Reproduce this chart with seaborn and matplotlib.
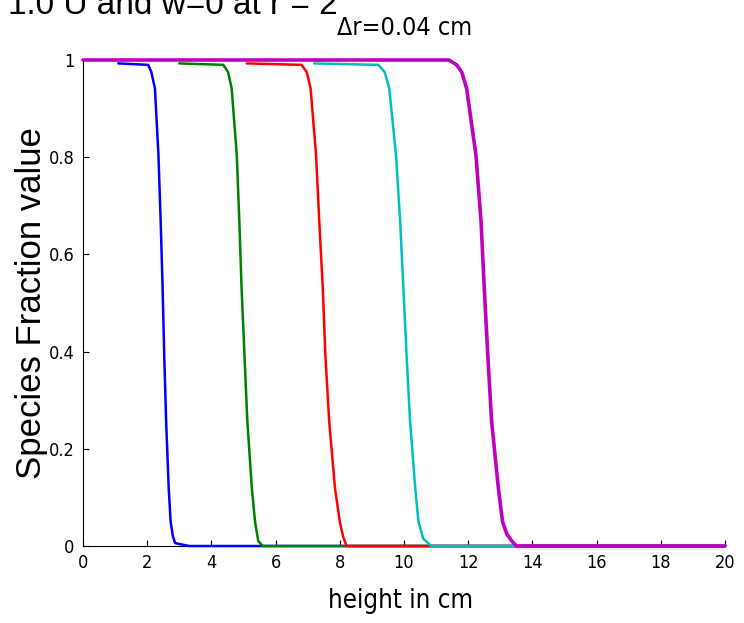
import matplotlib
matplotlib.use("Agg")
import matplotlib.pyplot as plt
import seaborn as sns
import pandas as pd

# ---- data ----
blue_x = [1.1, 2.03, 2.13, 2.24, 2.35, 2.42, 2.48, 2.53, 2.59, 2.67, 2.73, 2.8, 2.87, 3.3, 20.0]
blue_y = [0.993, 0.99, 0.975, 0.942, 0.805, 0.668, 0.531, 0.393, 0.256, 0.119, 0.05, 0.02, 0.006, 0.0, 0.0]

green_x = [3.0, 4.37, 4.52, 4.63, 4.79, 4.87, 4.94, 5.03, 5.12, 5.26, 5.36, 5.46, 5.6, 20.0]
green_y = [0.993, 0.99, 0.975, 0.942, 0.805, 0.668, 0.531, 0.393, 0.256, 0.119, 0.05, 0.01, 0.0, 0.0]

red_x = [5.1, 6.81, 6.97, 7.09, 7.26, 7.36, 7.47, 7.55, 7.67, 7.85, 8.0, 8.1, 8.21, 20.0]
red_y = [0.993, 0.99, 0.975, 0.942, 0.805, 0.668, 0.531, 0.393, 0.256, 0.119, 0.05, 0.02, 0.0, 0.0]

cyan_x = [7.2, 9.2, 9.4, 9.54, 9.75, 9.88, 9.98, 10.08, 10.19, 10.35, 10.45, 10.6, 10.85, 20.0]
cyan_y = [0.993, 0.99, 0.975, 0.942, 0.805, 0.668, 0.531, 0.393, 0.256, 0.119, 0.05, 0.015, 0.0, 0.0]

magenta_x = [0.0, 11.4, 11.64, 11.8, 11.95, 12.24, 12.40, 12.50, 12.61, 12.73, 12.94, 13.07, 13.2, 13.36, 13.5, 20.0]
magenta_y = [1.0, 1.0, 0.99, 0.975, 0.942, 0.805, 0.668, 0.531, 0.393, 0.256, 0.119, 0.05, 0.025, 0.01, 0.0, 0.0]

series_names = ["blue", "green", "red", "cyan", "magenta"]
series_x = [blue_x, green_x, red_x, cyan_x, magenta_x]
series_y = [blue_y, green_y, red_y, cyan_y, magenta_y]
colors = ["#0000ff", "#008000", "#ff0000", "#00bfbf", "#bf00bf"]
widths = [1.8, 1.8, 1.8, 1.8, 2.6]

x_ticks = [0, 2, 4, 6, 8, 10, 12, 14, 16, 18, 20]
y_ticks = [0, 0.2, 0.4, 0.6, 0.8, 1]
y_tick_labels = ["0", "0.2", "0.4", "0.6", "0.8", "1"]

title_top = "1.0 U and w=0 at r = 2"
title_sub = "\u0394r=0.04 cm"
x_label = "height in cm"
y_label = "Species Fraction value"

# ---- styling ----
sns.set_theme(style="white")
regular = ["Liberation Sans", "DejaVu Sans"]
cond = ["DejaVu Sans"]
plt.rcParams["font.family"] = regular
plt.rcParams["text.color"] = "black"
plt.rcParams["axes.labelcolor"] = "black"
plt.rcParams["xtick.color"] = "black"
plt.rcParams["ytick.color"] = "black"

fig = plt.figure(figsize=(7.44, 6.23), dpi=100)
ax = fig.add_axes([83 / 744, 1 - 546 / 623, (725 - 83) / 744, (546 - 60) / 623])

for name, xs, ys, c, w in zip(series_names, series_x, series_y, colors, widths):
    df = pd.DataFrame({"x": xs, "y": ys})
    sns.lineplot(data=df, x="x", y="y", ax=ax, color=c, linewidth=w,
                 estimator=None, sort=False, legend=False)
    ax.lines[-1].set_clip_on(False)

ax.set_xlim(0, 20)
ax.set_ylim(0, 1)
ax.set_xticks(x_ticks)
ax.set_xticklabels([str(t) for t in x_ticks])
ax.set_yticks(y_ticks)
ax.set_yticklabels(y_tick_labels)
for lab in ax.get_xticklabels() + ax.get_yticklabels():
    lab.set_family(cond)
    lab.set_stretch("condensed")
    lab.set_fontsize(13)
ax.tick_params(direction="in", length=4, width=0.8, colors="black", pad=6,
               bottom=True, left=True, top=False, right=False)
for s in ["top", "right"]:
    ax.spines[s].set_visible(False)
for s in ["left", "bottom"]:
    ax.spines[s].set_color("black")
    ax.spines[s].set_linewidth(0.8)
    ax.spines[s].set_zorder(0.5)
ax.set_facecolor("white")

ax.set_xlabel(x_label, fontsize=18.5, family=cond, stretch="condensed")
ax.xaxis.set_label_coords((401 - 83) / 642, -42 / 486)
ax.set_ylabel(y_label, fontsize=25, family=regular)
ax.yaxis.set_label_coords((48 - 83) / 642, 0.5)

fig.text(8 / 744, 1 - 14 / 623, title_top, ha="left", va="baseline",
         fontsize=24, family=regular)
fig.text(405 / 744, 1 - 35 / 623, title_sub, ha="center", va="baseline",
         fontsize=18, family=cond, stretch="condensed")

fig.savefig("out.png", dpi=100, facecolor="white")
